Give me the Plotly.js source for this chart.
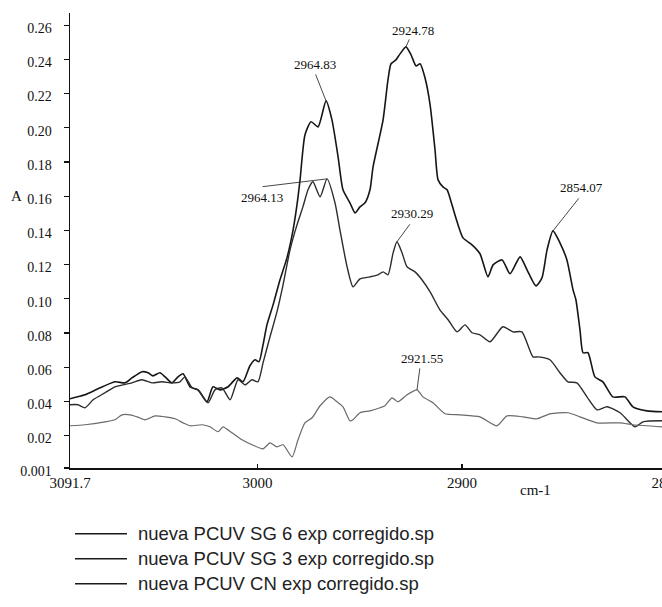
<!DOCTYPE html>
<html>
<head>
<meta charset="utf-8">
<script src="https://cdn.plot.ly/plotly-3.0.1.min.js"></script>
<style>
html,body{margin:0;padding:0;overflow:hidden;background:#fff;}
#chart{width:700px;height:607px;}
</style>
</head>
<body>
<div id="chart"></div>
<script>
// Series names (legend)
const seriesNames = [
  "nueva PCUV SG 6 exp corregido.sp",
  "nueva PCUV SG 3 exp corregido.sp",
  "nueva PCUV CN exp corregido.sp"
];

// Top spectrum (largest peaks)
const sg6X = [3091.7,3084.4,3078.0,3069.7,3064.8,3061.4,3056.5,3053.5,3051.1,3047.7,3045.2,3041.8,3038.9,3036.4,3033.0,3029.1,3024.7,3021.8,3018.3,3014.4,3010.0,3007.1,3003.7,3001.2,2999.3,2997.3,2995.4,2992.4,2989.0,2985.6,2982.6,2980.7,2979.2,2976.8,2973.8,2970.4,2966.5,2963.6,2960.6,2958.2,2954.8,2952.3,2949.9,2947.4,2945.0,2943.5,2938.6,2936.2,2934.7,2932.3,2930.3,2927.4,2924.9,2922.5,2920.5,2918.1,2915.6,2913.2,2911.7,2909.3,2907.3,2904.9,2902.4,2899.5,2895.1,2891.2,2887.3,2884.8,2880.4,2876.5,2871.6,2868.2,2863.8,2860.9,2858.4,2855.5,2852.1,2848.7,2845.7,2844.3,2842.3,2840.8,2838.4,2835.0,2831.1,2826.2,2820.3,2816.4,2809.5,2802.2];
const sg6Y = [0.0415,0.0438,0.0473,0.0514,0.0508,0.0537,0.0573,0.0567,0.0549,0.0567,0.0543,0.0508,0.0543,0.0561,0.0485,0.0467,0.0397,0.0485,0.0467,0.0485,0.0537,0.0514,0.0608,0.0643,0.0631,0.0730,0.0847,0.0964,0.1111,0.1239,0.1403,0.1549,0.1695,0.1958,0.2035,0.2005,0.2157,0.2046,0.1830,0.1637,0.1561,0.1502,0.1537,0.1561,0.1637,0.1771,0.2046,0.2280,0.2374,0.2397,0.2432,0.2473,0.2426,0.2362,0.2374,0.2292,0.2134,0.1871,0.1695,0.1654,0.1637,0.1549,0.1450,0.1356,0.1315,0.1263,0.1128,0.1198,0.1227,0.1146,0.1245,0.1169,0.1075,0.1122,0.1286,0.1397,0.1327,0.1227,0.1052,0.0994,0.0818,0.0684,0.0684,0.0543,0.0514,0.0426,0.0426,0.0368,0.0344,0.0339];

// Middle spectrum
const sg3X = [3091.7,3087.8,3084.4,3080.4,3074.6,3069.7,3061.4,3056.5,3051.6,3046.7,3041.8,3037.9,3035.5,3032.0,3029.1,3024.2,3020.8,3017.4,3013.4,3009.5,3006.1,3002.7,2999.8,2997.3,2993.9,2990.5,2987.5,2984.1,2980.7,2977.8,2975.3,2972.9,2969.4,2966.0,2962.1,2959.7,2956.2,2953.3,2949.9,2945.0,2941.1,2938.6,2936.2,2933.7,2931.8,2929.3,2926.9,2923.0,2919.6,2915.6,2910.8,2906.8,2902.4,2898.5,2895.1,2891.2,2886.3,2880.0,2875.1,2870.7,2865.3,2862.8,2857.0,2852.1,2848.2,2843.8,2838.9,2834.0,2829.1,2822.7,2815.4,2811.5,2802.2];
const sg3Y = [0.0380,0.0380,0.0362,0.0409,0.0450,0.0485,0.0508,0.0526,0.0508,0.0514,0.0508,0.0514,0.0543,0.0479,0.0467,0.0391,0.0467,0.0479,0.0409,0.0526,0.0496,0.0526,0.0514,0.0625,0.0777,0.0923,0.1081,0.1286,0.1432,0.1537,0.1637,0.1684,0.1596,0.1701,0.1561,0.1403,0.1187,0.1070,0.1116,0.1128,0.1140,0.1157,0.1140,0.1268,0.1333,0.1268,0.1187,0.1157,0.1111,0.1040,0.0935,0.0877,0.0806,0.0847,0.0801,0.0789,0.0748,0.0836,0.0806,0.0806,0.0660,0.0660,0.0643,0.0567,0.0514,0.0508,0.0426,0.0350,0.0368,0.0333,0.0251,0.0280,0.0286];

// Bottom spectrum
const cnX = [3091.7,3084.4,3074.6,3069.7,3066.3,3062.3,3058.9,3055.0,3050.1,3045.2,3040.3,3036.4,3033.0,3027.1,3023.2,3019.3,3016.9,3012.5,3007.6,3002.7,2997.3,2993.9,2990.5,2987.5,2983.1,2980.2,2976.8,2973.3,2969.4,2964.5,2961.1,2958.2,2954.8,2953.3,2949.9,2945.0,2940.1,2937.7,2934.2,2931.3,2926.9,2922.0,2919.1,2914.2,2908.3,2901.0,2891.2,2882.9,2878.0,2870.2,2863.3,2857.0,2848.2,2842.3,2834.0,2822.7,2816.4,2802.2];
const cnY = [0.0257,0.0263,0.0280,0.0292,0.0321,0.0321,0.0309,0.0292,0.0315,0.0309,0.0298,0.0274,0.0257,0.0263,0.0251,0.0222,0.0251,0.0216,0.0175,0.0146,0.0122,0.0157,0.0134,0.0146,0.0075,0.0175,0.0274,0.0304,0.0374,0.0426,0.0397,0.0368,0.0286,0.0292,0.0333,0.0344,0.0362,0.0374,0.0420,0.0397,0.0438,0.0467,0.0426,0.0391,0.0327,0.0321,0.0309,0.0257,0.0315,0.0309,0.0298,0.0327,0.0333,0.0309,0.0274,0.0274,0.0263,0.0251];

// Peak labels: [series index, point index, label]
const peakLabels = ["2924.78","2964.83","2964.13","2930.29","2854.07","2921.55"];
const peakSeries = [0,0,1,1,0,2];
const peakIndex  = [51,36,33,44,75,41];

// Axis ticks
const yTickVals = [0.001,0.02,0.04,0.06,0.08,0.10,0.12,0.14,0.16,0.18,0.20,0.22,0.24,0.26];
const yTickText = ["0.001","0.02","0.04","0.06","0.08","0.10","0.12","0.14","0.16","0.18","0.20","0.22","0.24","0.26"];
const xTickVals = [3091.7,3000,2900,2800];
const xTickText = ["3091.7","3000","2900","2800"];

const allX = [sg6X, sg3X, cnX];
const allY = [sg6Y, sg3Y, cnY];
const colors = ["#161616","#2c2c2c","#6a6a6a"];
const widths = [1.6,1.4,1.2];

const traces = allX.map((xs,i)=>({
  type:"scatter", mode:"lines", name:seriesNames[i],
  x:xs, y:allY[i], showlegend:false, hoverinfo:"skip",
  line:{color:colors[i], width:widths[i], shape:"spline", smoothing:0.6}
}));

const serif = "Liberation Serif, Times New Roman, serif";

// leader line tail offsets and text offsets (pixels)
const leaderStyle = [
  {ax:4, ay:-9, xs:7, ys:16},
  {ax:-11, ay:-28, xs:-11, ys:36},
  {ax:-66, ay:8, xs:-65, ys:-19},
  {ax:14, ay:-19, xs:15, ys:28},
  {ax:27, ay:-34, xs:29, ys:43},
  {ax:3, ay:-23, xs:5, ys:31}
];

const annotations = [];
peakLabels.forEach((lab,k)=>{
  const s = peakSeries[k], p = peakIndex[k];
  const px = allX[s][p], py = allY[s][p];
  const st = leaderStyle[k];
  annotations.push({x:px, y:py, xref:"x", yref:"y", text:"", showarrow:true,
    arrowhead:0, arrowwidth:0.9, arrowcolor:"#333", ax:st.ax, ay:st.ay, standoff:0});
  annotations.push({x:px, y:py, xref:"x", yref:"y", text:lab, showarrow:false,
    xshift:st.xs, yshift:st.ys, font:{family:serif, size:13, color:"#111"}});
});

// axis titles
annotations.push({xref:"paper", yref:"paper", x:-0.098, y:0.598, text:"A", showarrow:false,
  font:{family:serif, size:15, color:"#111"}});
annotations.push({xref:"paper", yref:"paper", x:0.779, y:-0.0699, text:"cm-1", showarrow:false,
  font:{family:serif, size:15, color:"#111"}});

// custom legend
const legendY = [-0.1446,-0.1995,-0.2544];
const shapes = [];
seriesNames.forEach((nm,i)=>{
  shapes.push({type:"line", xref:"paper", yref:"paper", x0:0.0081, x1:0.0919, y0:legendY[i], y1:legendY[i],
    line:{color:"#1a1a1a", width:1.6}});
  annotations.push({xref:"paper", yref:"paper", x:0.1065, y:legendY[i], xanchor:"left", yanchor:"middle",
    text:nm, showarrow:false, font:{family:"Liberation Sans, Arial, sans-serif", size:18.5, color:"#222"}});
});

const layout = {
  width:700, height:607,
  margin:{l:70, r:10, t:13, b:139},
  paper_bgcolor:"#fff", plot_bgcolor:"#fff",
  showlegend:false,
  xaxis:{range:[3091.7,2788.5], autorange:false, tickvals:xTickVals, ticktext:xTickText,
    ticks:"inside", ticklen:4, tickwidth:1.2, tickcolor:"#111",
    showline:true, linecolor:"#111", linewidth:1.5, showgrid:false, zeroline:false,
    tickfont:{family:serif, size:15, color:"#111"}},
  yaxis:{range:[0.001,0.2671], autorange:false, tickvals:yTickVals, ticktext:yTickText,
    ticks:"outside", ticklen:5, tickwidth:1.2, tickcolor:"#111", ticklabelshift:3, ticklabelstandoff:9,
    showline:true, linecolor:"#111", linewidth:1.5, showgrid:false, zeroline:false,
    tickfont:{family:serif, size:14, color:"#111"}},
  annotations:annotations,
  shapes:shapes
};

Plotly.newPlot("chart", traces, layout, {staticPlot:true, displayModeBar:false});
</script>
</body>
</html>
